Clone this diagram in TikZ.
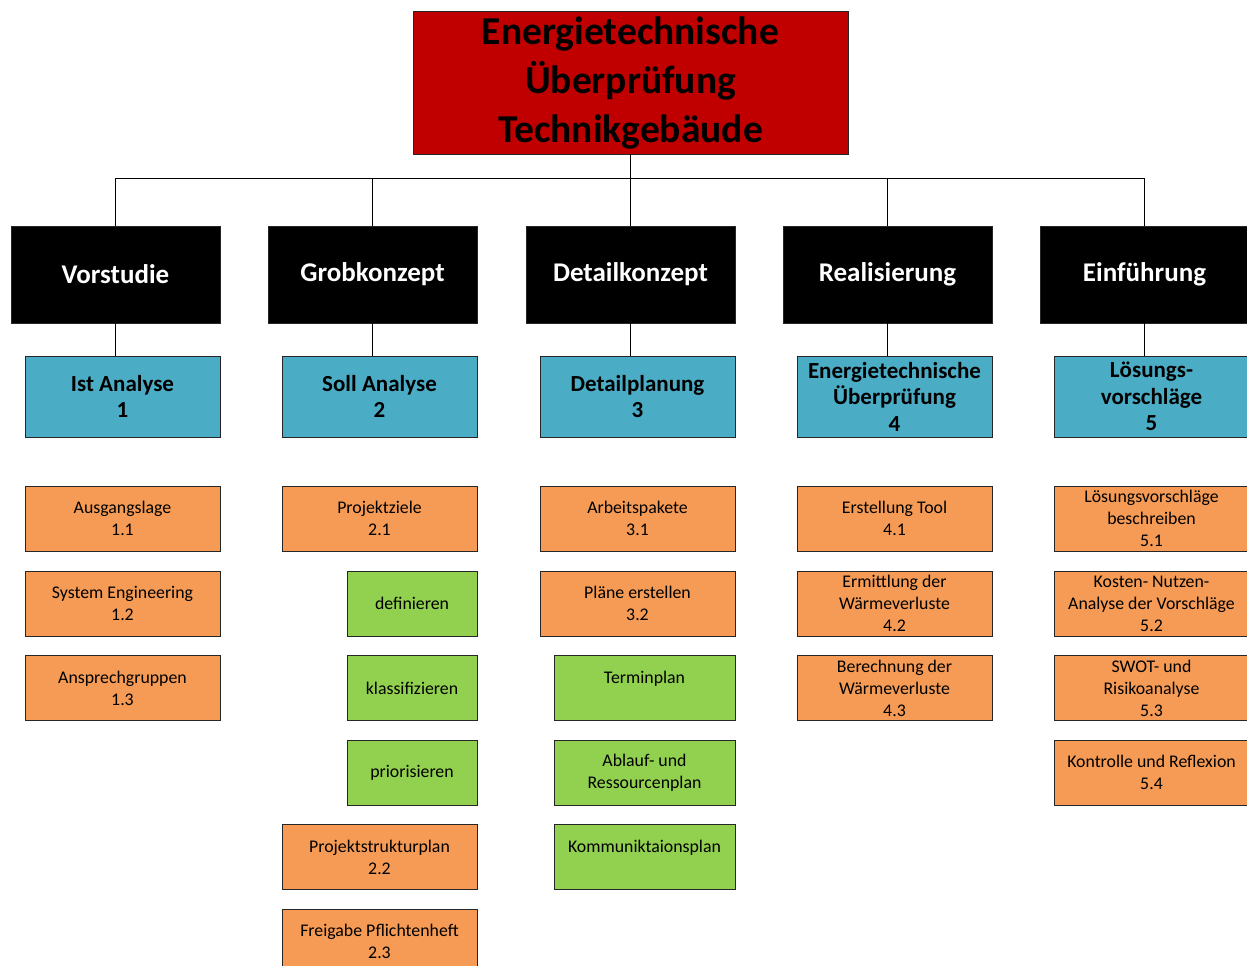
\documentclass[tikz,border=0pt]{standalone}
\usepackage{fontspec}
\setmainfont{Carlito}
\definecolor{wbsred}{HTML}{C00000}
\definecolor{wbsblue}{HTML}{4BACC6}
\definecolor{wbsorange}{HTML}{F59B55}
\definecolor{wbsgreen}{HTML}{92D050}
\tikzset{
  box/.style={draw=black!85, line width=0.8pt, inner sep=0pt, align=center},
  top/.style={box, fill=wbsred, minimum width=435, minimum height=143,
    font=\fontsize{39.5}{49}\selectfont\bfseries},
  phase/.style={box, fill=black, text=white, minimum width=209, minimum height=97,
    font=\fontsize{27}{32}\selectfont\bfseries},
  part/.style={box, fill=wbsblue, minimum width=195, minimum height=81,
    font=\fontsize{23}{26.5}\selectfont\bfseries},
  work/.style={box, fill=wbsorange, minimum width=195, minimum height=65,
    font=\fontsize{17.8}{22}\selectfont},
  task/.style={box, fill=wbsgreen, minimum width=#1, minimum height=65,
    font=\fontsize{17.8}{22}\selectfont},
  link/.style={draw=black, line width=1pt}
}
\begin{document}
\begin{tikzpicture}[x=1pt, y=-1pt]
\useasboundingbox (0,0) rectangle (1247,966);
\node[top](title) at (630.5,82.5) {Energietechnische\\Überprüfung\\Technikgebäude};
% phases
\node[phase](vor) at (115.5,274.5) {Vorstudie};
\node[phase](grob) at (372.5,274.5) {Grobkonzept};
\node[phase](det) at (630.5,274.5) {Detailkonzept};
\node[phase](real) at (887.5,274.5) {Realisierung};
\node[phase](einf) at (1144.5,274.5) {Einführung};
% analyses
\node[part](ist) at (122.5,396.5) {Ist Analyse\\1};
\node[part](soll) at (379.5,396.5) {Soll Analyse\\2};
\node[part](plan) at (637.5,396.5) {Detailplanung\\3};
\node[part](pruef) at (894.5,396.5) {Energietechnische\\Überprüfung\\4};
\node[part](loes) at (1151.5,396.5) {Lösungs-\\vorschläge\\5};
% work packages
\node[work](w11) at (122.5,518.5) {Ausgangslage\\1.1};
\node[work](w12) at (122.5,603.5) {System Engineering\\1.2};
\node[work](w13) at (122.5,688) {Ansprechgruppen\\1.3};
\node[work](w21) at (379.5,518.5) {Projektziele\\2.1};
\node[task=130](t211) at (412,603.5) {definieren};
\node[task=130](t212) at (412,688) {klassifizieren};
\node[task=130](t213) at (412,772.5) {priorisieren};
\node[work](w22) at (379.5,857) {Projektstrukturplan\\2.2};
\node[work](w23) at (379.5,941.5) {Freigabe Pflichtenheft\\2.3};
\node[work](w31) at (637.5,518.5) {Arbeitspakete\\3.1};
\node[work](w32) at (637.5,603.5) {Pläne erstellen\\3.2};
\node[task=181](t321) at (644.5,688) {Terminplan\\~};
\node[task=181](t322) at (644.5,772.5) {Ablauf- und\\Ressourcenplan};
\node[task=181](t323) at (644.5,857) {Kommuniktaionsplan\\~};
\node[work](w41) at (894.5,518.5) {Erstellung Tool\\4.1};
\node[work](w42) at (894.5,603.5) {Ermittlung der\\Wärmeverluste\\4.2};
\node[work](w43) at (894.5,688) {Berechnung der\\Wärmeverluste\\4.3};
\node[work](w51) at (1151.5,518.5) {Lösungsvorschläge\\beschreiben\\5.1};
\node[work](w52) at (1151.5,603.5) {Kosten- Nutzen-\\Analyse der Vorschläge\\5.2};
\node[work](w53) at (1151.5,688) {SWOT- und\\Risikoanalyse\\5.3};
\node[work](w54) at (1151.5,772.5) {Kontrolle und Reflexion\\5.4};
% connectors
\foreach \p in {vor,grob,det,real,einf}
  \draw[link] (title.south) -- ++(0,24) -| (\p.north);
\foreach \p/\q in {vor/ist,grob/soll,det/plan,real/pruef,einf/loes}
  \draw[link] (\p.south) -- (\p.south |- \q.north);
\end{tikzpicture}
\end{document}
